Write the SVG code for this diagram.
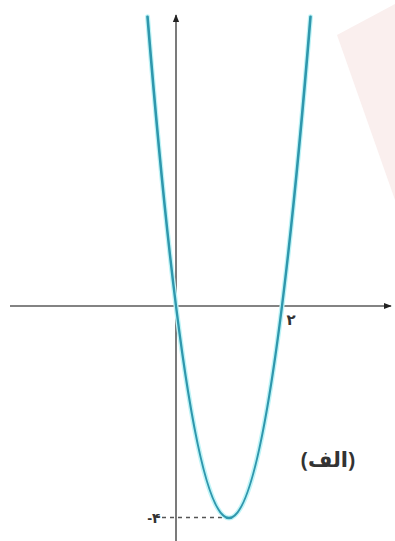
<svg xmlns="http://www.w3.org/2000/svg" width="395" height="541" viewBox="0 0 395 541">
<style>
.axis{stroke:#5a5a5a;stroke-width:1.6;fill:none}
.curve{fill:none;stroke-linecap:round}
.lbl{font-family:"Noto Sans","DejaVu Sans",sans-serif;fill:#333}
</style>
<defs>
<marker id="arr" viewBox="0 0 10 10" refX="9" refY="5" markerWidth="5" markerHeight="5" orient="auto" markerUnits="strokeWidth">
<path d="M0,1 L10,5 L0,9 Z" fill="#222"/>
</marker>
</defs>
<rect width="395" height="541" fill="#ffffff"/>
<polygon points="337,35 395,4 395,200" fill="#faefee"/>
<g id="connectors">
<line class="axis" x1="10" y1="306" x2="391" y2="306" marker-end="url(#arr)"/>
<line class="axis" x1="176" y1="541" x2="176" y2="15" marker-end="url(#arr)"/>
<line x1="162" y1="517.5" x2="228" y2="517.5" stroke="#555" stroke-width="1.3" stroke-dasharray="4,4"/>
</g>
<g id="parabola">
<path class="curve" d="M147.5,16.7 Q229,1019.3 310.5,16.7" stroke="#bff4f7" stroke-width="5"/>
<path class="curve" d="M147.5,16.7 Q229,1019.3 310.5,16.7" stroke="#2f97ad" stroke-width="2.6"/>
</g>
<g id="labels">
<text class="lbl" x="291" y="325" font-size="15" text-anchor="middle" font-weight="bold">۲</text>
<text class="lbl" x="154" y="523" font-size="14" text-anchor="middle" font-weight="bold" direction="ltr">-۴</text>
<text class="lbl" x="328" y="467" font-size="21" text-anchor="middle" font-weight="bold" direction="rtl">(الف)</text>
</g>
</svg>
